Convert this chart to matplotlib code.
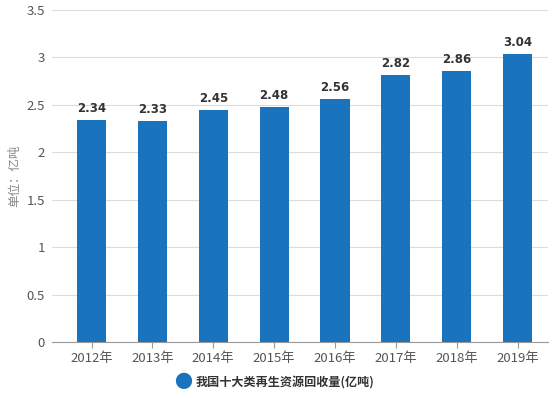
import matplotlib
matplotlib.use("Agg")
import matplotlib.pyplot as plt

plt.rcParams['font.family'] = ['Noto Sans CJK SC', 'DejaVu Sans']

categories = ["2012年", "2013年", "2014年", "2015年", "2016年", "2017年", "2018年", "2019年"]
values = [2.34, 2.33, 2.45, 2.48, 2.56, 2.82, 2.86, 3.04]
yticks = [0, 0.5, 1, 1.5, 2, 2.5, 3, 3.5]
ytick_labels = ["0", "0.5", "1", "1.5", "2", "2.5", "3", "3.5"]
series_name = "我国十大类再生资源回收量(亿吨)"
ylabel = "单位：亿吨"

fig = plt.figure(figsize=(5.57, 3.98), dpi=100)
ax = fig.add_axes([52/557, 1 - 342/398, 496/557, 332/398])

color = "#1a73bd"
x = range(len(categories))
ax.bar(x, values, width=0.48, color=color, label=series_name, zorder=3)
for xi, v in zip(x, values):
    ax.text(xi, v + 0.05, f"{v:.2f}", ha="center", va="bottom", fontsize=8.5,
            fontweight="bold", color="#333333", family=['DejaVu Sans'])

ax.set_xlim(-0.65, len(categories) - 0.5)
ax.set_ylim(0, 3.5)
ax.set_yticks(yticks)
ax.set_yticklabels(ytick_labels, fontsize=9.5, color="#555555")
ax.set_xticks(list(x))
ax.set_xticklabels(categories, fontsize=9.5, color="#555555")
ax.grid(axis="y", color="#dcdcdc", linewidth=0.8, zorder=0)
for s in ["top", "right", "left"]:
    ax.spines[s].set_visible(False)
ax.spines["bottom"].set_color("#999999")
ax.tick_params(axis="y", length=0, pad=5)
ax.tick_params(axis="x", length=4, color="#999999", pad=3)
ax.set_ylabel(ylabel, fontsize=9, color="#888888", labelpad=4)

fig.text(183/557, 1 - 383/398, "●", color=color, fontsize=13, ha="center", va="center")
fig.text(196/557, 1 - 383/398, series_name, fontsize=8.7, fontweight="bold",
         color="#333333", ha="left", va="center")

fig.savefig("out.png", dpi=100)
